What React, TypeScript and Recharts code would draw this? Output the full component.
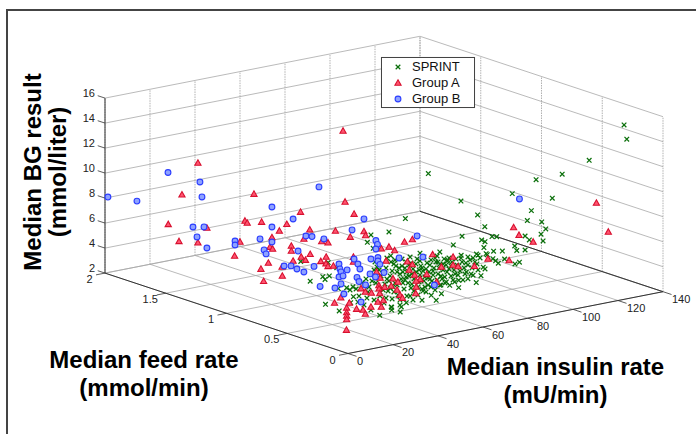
import React from "react";
import { ScatterChart, Scatter, XAxis, YAxis, ReferenceLine, Legend } from "recharts";

// Each row: [median insulin rate (mU/min), median feed rate (mmol/min), median BG (mmol/l)]
const insulinTicks = [0, 20, 40, 60, 80, 100, 120, 140];
const feedTicks = [0, 0.5, 1, 1.5, 2];
const feedLabels = ["0", "0.5", "1", "1.5", "2"];
const bgTicks = [2, 4, 6, 8, 10, 12, 14, 16];

const sprintRows: number[][] = [
  [136.2,0.25,14.67],[137.4,0.25,13.49],[134.2,0.5,11.11],[122.2,0.5,10.42],[110.6,0.5,10.39],[117.8,0.5,8.66],[100,0.5,9.65],[108.5,0.5,7.99],
  [77.2,0.5,9.86],[62.7,0.5,12.57],[84.6,0.5,8.49],[106.7,0.5,7.26],[113.1,0.5,6.92],[114.9,0.5,6.3],[87.8,0.5,7.44],[112.8,0.5,5.95],
  [113.7,0.5,5.38],[91,0.5,6.53],[93.1,0.5,6.45],[105.7,0.5,6.06],[107.6,0.5,5.68],[86.4,0.5,6.42],[87.9,0.5,6.23],[87.4,0.5,5.78],
  [101.1,0.5,5.42],[102,0.5,5.03],[105.7,0.5,4.94],[91.7,0.5,5.34],[95.6,0.5,5.21],[88.9,0.5,5.16],[96.6,0.5,4.54],[101.2,0.5,3.98],
  [103.2,0.5,4.05],[92.6,0.5,4.54],[93.8,0.5,4.3],[87.1,0.5,4.22],[87.9,0.5,4.05],[86.1,0.5,3.58],[52.5,0.5,9.33],[45.2,0.5,8.52],
  [77.7,0.5,7.03],[73.8,0.5,6.47],[84.1,0.5,5.38],[84.8,0.5,5.26],[88.4,0.5,5.26],[77.3,0.5,5.52],[80.3,0.5,5.28],[71.4,0.5,5.33],
  [67.8,0.5,6.12],[91.4,0.5,4.75],[82.6,0.5,3.74],[79.6,0.5,4.1],[80.3,0.5,3.54],[84,0.5,3.1],[76.2,0.5,3.56],[76.2,0.5,2.97],
  [74.4,0.5,3.49],[70,0.5,4.04],[70.7,0.5,3.62],[72.2,0.5,3.3],[67.8,0.5,3.46],[68.5,0.5,2.76],[66.2,0.5,2.31],[64,0.5,2.79],
  [59.9,0.5,2.54],[52.9,0.5,2.59],[50.7,0.5,2.33],[44.8,0.4,2.45],[46.2,0.5,2.48],[41.1,0.5,2],[60.3,0.5,3.26],[6,0.5,7.54],
  [10.2,0.5,5.82],[15.8,0.5,5.98],[16.8,0.5,5.72],[18.7,0.5,5.94],[17,0.5,3.73],[23.1,0.5,2.98],[18.2,0.5,7.02],[22,0.5,6.48],
  [26.4,0.5,4.72],[22.7,0.5,4.78],[37.2,0.5,8.56],[35.6,0.5,8.03],[38.2,0.5,7.46],[46,0.5,6.59],[49.8,0.5,6.25],[59,0.5,6.33],
  [46.4,0.5,2.45],[46.4,0.5,2.23],[50.1,0.5,2.5],[27.9,0.5,4.49],[29.4,0.5,3.9],[28.2,0.5,3.46],[29.2,0.5,4.7],
  [30.6,0.5,4.47],[31.9,0.5,3.86],[33.2,0.5,4.86],[31.4,0.5,3.4],[35,0.5,5.12],[35.4,0.5,3.58],[34.1,0.5,3.07],[36.3,0.5,4.43],
  [37.7,0.5,4.86],[38.6,0.5,3.31],[39.9,0.5,5.9],[41.2,0.5,3.54],[37.2,0.5,2.56],[42.6,0.5,5.33],[43,0.5,2.91],[39.4,0.5,4.64],
  [40.8,0.5,5.63],[43.4,0.5,4.42],[43.9,0.5,5.68],[44.8,0.5,3.81],[45.7,0.5,4.98],[46.6,0.5,3.11],[47.4,0.5,5.88],[47.9,0.5,4.34],
  [44.3,0.5,6.46],[48.8,0.5,5.19],[49.2,0.5,3.34],[46.1,0.5,6.09],[47,0.5,4.06],[49.7,0.5,5.48],[45.2,0.5,4.6],[50.6,0.5,4.57],
  [51,0.5,6.15],[51.9,0.5,3.72],[52.3,0.5,5.38],[53.2,0.5,3.11],[54.1,0.5,4.68],[54.6,0.5,6.18],[55.4,0.5,3.99],[51.4,0.5,5.1],
  [55.9,0.5,5.18],[52.8,0.5,5.85],[56.3,0.5,3.41],[53.7,0.5,4.14],[55,0.5,5.69],[57.2,0.5,4.9],[57.7,0.5,5.92],[58.6,0.5,4.05],
  [59.4,0.5,5.3],[59.9,0.5,3.44],[60.8,0.5,5.97],[61.2,0.5,4.35],[62.1,0.5,5.44],[62.6,0.5,3.66],[58.1,0.5,3.02],[60.3,0.5,4.86],
  [63,0.5,4.69],[61.7,0.5,3.14],[59,0.5,5.71],[63.9,0.5,5.62],[64.3,0.5,3.92],[65.2,0.5,4.93],[65.7,0.5,3.15],[66.6,0.5,5.84],
  [67,0.5,4.39],[67.9,0.5,5.15],[68.3,0.5,3.46],[69.2,0.5,4.63],[69.7,0.5,5.5],[64.8,0.5,4.38],[66.1,0.5,5.38],[68.8,0.5,3.93],
  [70.6,0.5,4.98],[71,0.5,4.41],[71.9,0.5,5.5],[72.8,0.5,4.02],[73.2,0.5,5.13],[74.1,0.5,4.46],[75,0.5,5.3],[75.9,0.5,3.99],
  [76.3,0.5,4.7],[77.7,0.5,4.97],[78.6,0.5,4.46],[79.4,0.5,4.83],[81.2,0.5,5.01],[82.1,0.5,4.34],[83.4,0.5,4.77],[84.8,0.5,4.08],
  [81.7,0.5,3.87],[78.1,0.5,3.52],
  [39,0.5,6.34],[41.7,0.5,5.12],[44.3,0.5,4.78],[46.6,0.5,5.35],[48.3,0.5,5.69],[50.1,0.5,4.98],[51.4,0.5,4.22],[52.8,0.5,4.65],
  [54.1,0.5,5.56],[55,0.5,3.69],[56.3,0.5,4.37],[57.2,0.5,5.54],[58.1,0.5,3.66],[59,0.5,4.59],[59.9,0.5,5.12],[60.8,0.5,4.05],
  [61.7,0.5,4.98],[62.6,0.5,4.22],[63.4,0.5,5.23],[63.9,0.5,3.46],[64.8,0.5,4.7],[65.7,0.5,5.71],[66.6,0.5,3.92],[67.4,0.5,4.86],
  [68.3,0.5,4.18],[69.2,0.5,5.11],[70.1,0.5,3.56],[71,0.5,5.29],[71.9,0.5,4.62],[72.8,0.5,4.82],[73.7,0.5,3.67],[74.6,0.5,4.12],
  [75.4,0.5,4.81],[76.8,0.5,4.28],[77.2,0.5,5.3],[79,0.5,3.97],[80.3,0.5,4.64],[82.6,0.5,5.12],[84.3,0.5,4.58],[85.7,0.5,5.01],
  [47.4,0.5,3.64],[50.1,0.5,2.9],[52.3,0.5,4.42],[54.6,0.5,3.06],[48.8,0.5,4.15],[43.9,0.5,3.28],[42.6,0.5,3.97],[40.3,0.5,5.01],
  [38.6,0.5,5.71],[35.9,0.5,4.05],[55.9,0.5,2.7],[58.6,0.5,5.01],[61.2,0.5,3.55],[53.2,0.5,5.03],[51,0.5,5.59],[55.4,0.5,4.79],
  [45.7,0.5,4.02],[47.9,0.5,6.18],[63.4,0.5,4.11],[67,0.5,5.35],
];

const groupARows: number[][] = [
  [14.3,1.5,11.91],[7.2,1.5,9.62],[12.2,1,11.11],[51.8,1,14.76],[5.9,0.5,11.5],[25.7,0.5,11.61],[29.7,0.5,10.5],[1.1,1.5,7.47],
  [5.9,1.5,5.94],[14.3,1.5,5.54],[18.3,1.5,6.57],[8.2,1,9.1],[9.2,1,8.9],[15.6,1,8.75],[6,1,7.5],[3.6,1,6.46],
  [23.5,1,7.76],[26.8,1,8.18],[10,0.5,9.94],[21.4,0.5,9.44],[7.4,0.5,9.29],[15.3,0.5,8.81],[18.1,0.5,8.62],[20.2,1,7.35],
  [19.3,1,6.62],[20.5,1,6.42],[1.8,0.5,8.93],[1.8,0.5,8.53],[6.2,0.5,7.9],[8.1,0.5,7.58],[10.2,0.5,7.97],[2.6,0.5,7.7],
  [18.6,1,5.37],[15.3,1,5],[24.7,1,4.83],[24.8,1,4.11],[16.5,1,3.98],[17.3,0.5,7.5],[14.9,0.5,7.24],[17.2,0.5,6.98],
  [18.1,0.5,6.73],[20.5,0.5,6.67],[21,0.5,3.69],[23.8,0.5,4.02],[27.6,0.5,3.46],[26.4,0.5,3.1],[26.4,0.5,2.74],[26.4,0.5,2.46],
  [26.4,0.5,2.18],[12.8,0.25,2.62],[28,0.5,8.72],[34.1,0.5,8.95],[34.8,0.5,8.61],[29.4,0.5,7.07],[29.4,0.5,6.68],[45.2,0.5,7.32],
  [52.1,0.5,7.47],[55.6,0.5,7.55],[47.7,0.5,6.95],[41.8,0.5,7.3],[43.9,0.5,6.24],[64.6,0.5,6.03],[53.4,0.5,5.85],[55.6,0.5,5.55],
  [54.2,0.5,5.16],[56.6,0.5,4.68],[59.1,0.5,4.24],[62,0.5,4.54],[57.3,0.5,4.17],[57.3,0.5,3.69],[57.1,0.5,3.18],[73.7,0.5,5.51],
  [68.5,0.5,4.9],[73.7,0.5,4.87],[75.9,0.5,4.67],[83.2,0.5,4.44],[89.2,0.5,4.8],[98.6,0.5,4.35],[100.6,0.5,6.92],[103,0.5,6.22],
  [109.3,0.5,5.46],[123.9,0.25,8.86],[129.2,0.25,6.36],[39.7,0.5,5.51],[41.3,0.5,4.98],[47,0.5,4.72],[49.2,0.5,4.38],[40.7,0.5,4.4],
  [43.3,0.5,4.18],[46.2,0.5,4.16],[32.8,0.5,4.43],[34.7,0.5,4.09],[37.4,0.5,3.91],[40.8,0.5,4.14],[41.1,0.5,3.74],[48.8,0.5,3.75],
  [50.1,0.5,3.3],[51.2,0.5,3.02],[30.8,0.5,2.86],[33.7,0.5,2.69],[34.7,0.5,2.33],[37.2,0.5,2.8],[40.3,0.5,3.09],[42.7,0.5,3.13],
  [41.8,0.5,2.64],[66.4,0.5,3.77],
];

const groupBRows: number[][] = [
  [1.3,2,8.04],[14.2,2,7.26],[1,1.5,11.62],[15.2,1.5,10.36],[16.1,1.5,9.13],[12.1,1.5,6.87],[17,1.5,6.7],[13.9,1.5,6.01],
  [18.3,1.5,4.97],[3.8,1,7.65],[3.8,1,7.33],[14.9,1,7.42],[20.2,1,9.79],[20.2,1,8.19],[20.2,1,6.99],[16.7,1,6.48],
  [17.6,1,6.13],[25.6,1,4.88],[2.6,0.5,11.06],[14.1,0.5,13.22],[4.8,0.5,8.42],[8.3,0.5,9.5],[11,0.5,9.36],[16.3,0.5,8.98],
  [1.7,0.5,7.34],[4.3,0.5,7],[7.4,0.5,6.65],[11.9,0.5,6.94],[14.6,0.5,5.24],[23,0.5,6.74],[23.4,0.5,6.33],[23.9,0.5,6.07],
  [23,0.5,5.7],[24.8,0.5,5.72],[26.6,0.5,6.14],[23.9,0.5,5.11],[21.2,0.5,4.88],[25.2,0.5,4.26],[28.8,0.5,9.26],[34.1,0.5,9.95],
  [29.7,0.5,6.9],[31.4,0.5,6.44],[32.3,0.5,6.01],[31,0.5,5.38],[31.9,0.5,5.02],[34.8,0.5,4.65],[32.8,0.5,3.35],[39.4,0.5,8.04],
  [40.1,0.5,7.7],[39.4,0.5,7.36],[37.2,0.5,6.64],[40.3,0.5,6.65],[40.3,0.5,6.37],[41.2,0.5,6.07],[36.8,0.5,5.46],[39.2,0.5,5.13],
  [43,0.5,5.35],[49.7,0.5,6.28],[57.7,0.5,7.76],[60.3,0.5,5.98],[65.4,0.5,3.56],[103.2,0.5,9.11],
];

const W = 696;
const H = 434;

// Oblique view of the 3-D box onto the flat chart plane.
const project = (ins: number, feed: number, bg: number) => ({
  h: 348 + 2.25 * ins - 121.5 * feed,
  v: H - (353.5 - 0.4415 * ins - 40.2 * feed - 12.5 * (bg - 2)),
});
const toPoints = (rows: number[][]) => rows.map(([i, f, b]) => project(i, f, b));

const GREEN = "#0c700c";
const RED_EDGE = "#d8102f";
const RED_FILL = "#ff5470";
const BLUE_EDGE = "#2b3dff";
const BLUE_FILL = "#8ea2ff";

const Cross = ({ cx, cy }: any) => (
  <path d={`M${cx - 2.3} ${cy - 2.3}L${cx + 2.3} ${cy + 2.3}M${cx - 2.3} ${cy + 2.3}L${cx + 2.3} ${cy - 2.3}`} stroke={GREEN} strokeWidth={1.25} fill="none" />
);
const Tri = ({ cx, cy }: any) => (
  <path d={`M${cx} ${cy - 3.2}L${cx + 3.1} ${cy + 2.3}L${cx - 3.1} ${cy + 2.3}Z`} stroke={RED_EDGE} strokeWidth={1.1} fill={RED_FILL} />
);
const Dot = ({ cx, cy }: any) => <circle cx={cx} cy={cy} r={2.9} stroke={BLUE_EDGE} strokeWidth={1.1} fill={BLUE_FILL} />;

const TickText = ({ cx, cy, payload }: any) => (
  <text x={cx + payload.dx} y={cy + payload.dy} textAnchor={payload.anchor} dominantBaseline="central" fontFamily="'Liberation Sans', Arial, sans-serif" fontSize={11} fill="#222">
    {payload.label}
  </text>
);

const tickLabels = [
  ...bgTicks.map((b) => ({ ...project(0, 2, b), label: String(b), dx: -10, dy: -4.7, anchor: "end" })),
  ...feedTicks.map((f, i) => ({ ...project(0, f, 2), label: feedLabels[i], dx: -15.5, dy: 6, anchor: "middle" })),
  ...insulinTicks.map((n) => ({ ...project(n, 0, 2), label: String(n), dx: 9, dy: 7.7, anchor: "start" })),
];

type Seg = { a: number[]; b: number[]; kind: "grid" | "dash" | "edge" | "tick" };
const segs: Seg[] = [];
insulinTicks.forEach((n) => {
  segs.push({ a: [n, 0, 2], b: [n, 2, 2], kind: "grid" });
  segs.push({ a: [n, 2, 2], b: [n, 2, 16], kind: "dash" });
});
feedTicks.forEach((f) => {
  segs.push({ a: [0, f, 2], b: [140, f, 2], kind: "grid" });
  segs.push({ a: [140, f, 2], b: [140, f, 16], kind: "dash" });
});
bgTicks.forEach((b) => {
  segs.push({ a: [0, 2, b], b: [140, 2, b], kind: "grid" });
  segs.push({ a: [140, 2, b], b: [140, 0, b], kind: "grid" });
  segs.push({ a: [0, 2, b], b: [0, 2.06, b], kind: "tick" });
});
feedTicks.forEach((f) => segs.push({ a: [0, f, 2], b: [-4, f, 2], kind: "tick" }));
insulinTicks.forEach((n) => segs.push({ a: [n, 0, 2], b: [n, -0.07, 2], kind: "tick" }));
segs.push({ a: [0, 0, 2], b: [0, 2, 2], kind: "edge" });
segs.push({ a: [0, 0, 2], b: [140, 0, 2], kind: "edge" });
segs.push({ a: [0, 2, 2], b: [0, 2, 16], kind: "edge" });
segs.push({ a: [140, 0, 2], b: [140, 2, 2], kind: "edge" });

const segStyle: Record<string, any> = {
  grid: { stroke: "#a8a8a8", strokeWidth: 0.8 },
  dash: { stroke: "#a8a8a8", strokeWidth: 0.9, strokeDasharray: "1.5 1" },
  edge: { stroke: "#333", strokeWidth: 1 },
  tick: { stroke: "#333", strokeWidth: 0.8 },
};

const titleStyle = { fontFamily: "'Liberation Sans', Arial, sans-serif", fontWeight: 700, fontSize: 24, fill: "#000" };

const legendRows = [
  { name: "SPRINT", Marker: Cross },
  { name: "Group A", Marker: Tri },
  { name: "Group B", Marker: Dot },
];

const LegendBox = () => (
  <div style={{ width: 94, height: 51, boxSizing: "border-box", border: "1px solid #444", background: "#fff", boxShadow: "0 0 0.5px #444" }}>
    {legendRows.map(({ name, Marker }) => (
      <div key={name} style={{ position: "relative", height: 16, fontFamily: "'Liberation Sans', Arial, sans-serif", fontSize: 13, lineHeight: "16px", color: "#111" }}>
        <svg width={20} height={16} style={{ position: "absolute", left: 7, top: 1 }}>
          <Marker cx={9} cy={8} />
        </svg>
        <span style={{ position: "absolute", left: 30, top: 1, whiteSpace: "nowrap" }}>{name}</span>
      </div>
    ))}
  </div>
);

export default function App() {
  return (
    <div style={{ position: "absolute", left: 0, top: 0, width: W, height: H, background: "#fff" }}>
      <ScatterChart width={W} height={H} margin={{ top: 0, right: 0, bottom: 0, left: 0 }}>
        <XAxis type="number" dataKey="h" domain={[0, W]} hide allowDataOverflow />
        <YAxis type="number" dataKey="v" domain={[0, H]} hide allowDataOverflow />
        {segs.map((s, i) => {
          const p = project(s.a[0], s.a[1], s.a[2]);
          const q = project(s.b[0], s.b[1], s.b[2]);
          return (
            <ReferenceLine
              key={i}
              segment={[{ x: p.h, y: p.v }, { x: q.h, y: q.v }]}
              ifOverflow="visible"
              {...segStyle[s.kind]}
            />
          );
        })}
        <Scatter name="SPRINT" data={toPoints(sprintRows)} shape={Cross} isAnimationActive={false} />
        <Scatter name="Group A" data={toPoints(groupARows)} shape={Tri} isAnimationActive={false} />
        <Scatter name="Group B" data={toPoints(groupBRows)} shape={Dot} isAnimationActive={false} />
        <Scatter name="ticks" data={tickLabels} shape={TickText} legendType="none" isAnimationActive={false} />
        <Legend layout="vertical" align="center" verticalAlign="middle" content={<LegendBox />} wrapperStyle={{ left: 381, top: 57, width: 94, height: 51 }} />
        <line x1={7} y1={10} x2={7} y2={H} stroke="#444" strokeWidth={2} />
        <line x1={6} y1={10} x2={W} y2={10} stroke="#444" strokeWidth={2} />
        <text {...titleStyle} transform="translate(41 172) rotate(-90)" textAnchor="middle">Median BG result</text>
        <text {...titleStyle} transform="translate(66 172) rotate(-90)" textAnchor="middle">(mmol/liter)</text>
        <text {...titleStyle} x={144} y={368} textAnchor="middle">Median feed rate</text>
        <text {...titleStyle} x={144} y={396} textAnchor="middle">(mmol/min)</text>
        <text {...titleStyle} x={555.5} y={375} textAnchor="middle">Median insulin rate</text>
        <text {...titleStyle} x={555.5} y={403} textAnchor="middle">(mU/min)</text>
      </ScatterChart>
    </div>
  );
}
